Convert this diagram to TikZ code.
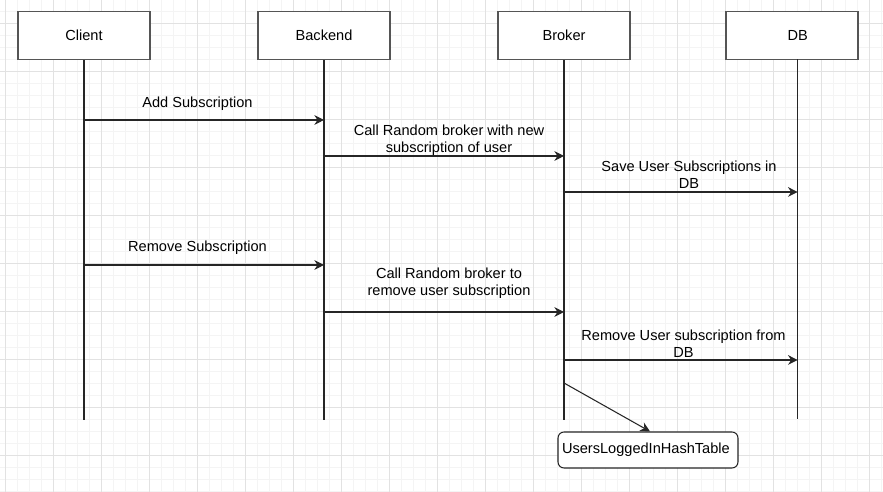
\documentclass[tikz,border=0pt]{standalone}
\usepackage{fontspec}
\setmainfont{Liberation Sans}
\usetikzlibrary{positioning,arrows.meta}

\definecolor{gridminor}{HTML}{F4F4F4}
\definecolor{gridmajor}{HTML}{E2E2E2}
\definecolor{boxline}{HTML}{555555}

\tikzset{
    actor/.style={draw=boxline, line width=0.8pt, fill=white, minimum width=2.64cm, minimum height=0.96cm, inner sep=0pt},
    lifeline/.style={draw=black!85, line width=0.6pt},
    msg/.style={draw=black!85, line width=0.6pt, -{Stealth[length=5.5pt, width=5.5pt, inset=1.8pt]}},
    msglabel/.style={align=center, inner sep=0pt},
    store/.style={draw=black!85, line width=0.6pt, fill=white, rounded corners=0.12cm, minimum width=3.6cm, minimum height=0.72cm, text width=3.44cm, inner xsep=0.08cm, align=left}
}

\begin{document}
\begin{tikzpicture}[x=0.02cm, y=-0.02cm, font=\fontsize{8.3}{9.6}\selectfont]
    \useasboundingbox (0,0) rectangle (883,492);
    \fill[white] (0,0) rectangle (883,492);

    % grid
    \foreach \x in {5.3,17.3,...,883} \draw[gridminor, line width=0.4pt] (\x,0) -- (\x,492);
    \foreach \y in {-1,11,...,492} \draw[gridminor, line width=0.4pt] (0,\y) -- (883,\y);
    \foreach \x in {5.3,53.3,...,883} \draw[gridmajor, line width=0.5pt] (\x,0) -- (\x,492);
    \foreach \y in {23,71,...,492} \draw[gridmajor, line width=0.5pt] (0,\y) -- (883,\y);

    % participants
    \node[actor] (client) at (84,35.5) {Client};
    \node[actor] (backend) at (324,35.5) {Backend};
    \node[actor] (broker) at (564,35.5) {Broker};
    \node[actor] (db) at (792,35.5) {};
    \node[inner sep=0pt] (dbname) at (797.7,35.5) {DB};

    \coordinate (clientend) at (84,420);
    \coordinate (backendend) at (324,420);
    \coordinate (brokerend) at (564,420);
    \coordinate (dbtop) at (797.7,59.5);
    \coordinate (dbend) at (797.7,419);

    \draw[lifeline] (client.south) -- (clientend);
    \draw[lifeline] (backend.south) -- (backendend);
    \draw[lifeline] (broker.south) -- (brokerend);
    \draw[lifeline] (dbtop) -- (dbend);

    % messages
    \draw[msg] (client |- 0,120) -- (backend |- 0,120);
    \node[msglabel] (addsub) at (197.5,103.5) {Add Subscription};

    \draw[msg] (backend |- 0,156) -- (broker |- 0,156);
    \node[msglabel] (callnew) at (449,140) {Call Random broker with new\\subscription of user};

    \draw[msg] (broker |- 0,192) -- (dbname |- 0,192);
    \node[msglabel] (savesub) at (689,175) {Save User Subscriptions in\\DB};

    \draw[msg] (client |- 0,265) -- (backend |- 0,265);
    \node[msglabel] (remsub) at (197.5,247.5) {Remove Subscription};

    \draw[msg] (backend |- 0,312) -- (broker |- 0,312);
    \node[msglabel] (callrem) at (449,283) {Call Random broker to\\remove user subscription};

    \draw[msg] (broker |- 0,360) -- (dbname |- 0,360);
    \node[msglabel] (remdb) at (683.5,343.5) {Remove User subscription from\\DB};

    % hash table
    \node[store] (hash) at (648,450) {UsersLoggedInHashTable};
    \draw[msg] (broker |- 0,383) -- ([xshift=0.04cm]hash.north);
\end{tikzpicture}
\end{document}
